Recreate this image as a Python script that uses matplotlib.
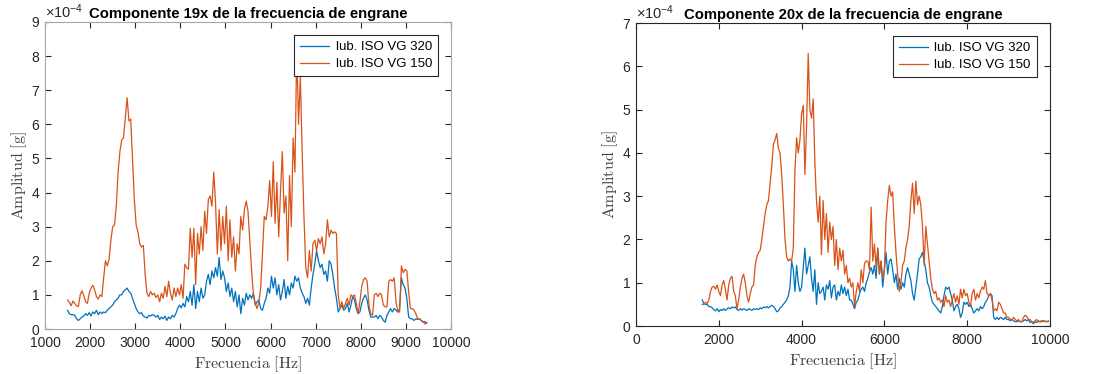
import numpy as np
import matplotlib
matplotlib.use("Agg")
import matplotlib.pyplot as plt

plt.rcParams['font.family'] = ['Liberation Sans', 'DejaVu Sans']
plt.rcParams['mathtext.fontset'] = 'custom'
plt.rcParams['mathtext.rm'] = 'Liberation Sans'
plt.rcParams['mathtext.it'] = 'Liberation Sans:italic'
plt.rcParams['mathtext.bf'] = 'Liberation Sans:bold'

# ---- data (amplitudes in units of 1e-4 g), frequency bins every 40 Hz ----
f19_start, f19_step = 1500, 40
vg320_19x = [
    0.55, 0.45, 0.42, 0.42, 0.40, 0.30, 0.25, 0.30, 0.35, 0.38,
    0.45, 0.40, 0.48, 0.38, 0.50, 0.45, 0.55, 0.42, 0.50, 0.45,
    0.50, 0.48, 0.55, 0.60, 0.65, 0.70, 0.80, 0.85, 0.90, 1.00,
    1.00, 1.10, 1.15, 1.20, 1.10, 1.05, 0.90, 0.75, 0.60, 0.50,
    0.45, 0.48, 0.38, 0.35, 0.32, 0.40, 0.38, 0.42, 0.40, 0.35,
    0.40, 0.28, 0.35, 0.30, 0.38, 0.25, 0.35, 0.30, 0.40, 0.35,
    0.45, 0.60, 0.70, 0.62, 0.75, 0.65, 0.95, 0.80, 1.10, 0.70,
    1.30, 0.60, 1.10, 0.80, 1.20, 0.90, 1.00, 1.40, 1.60, 1.30,
    1.70, 1.50, 1.80, 1.55, 2.10, 1.45, 1.70, 1.50, 1.10, 1.35,
    0.95, 1.20, 0.80, 1.10, 0.65, 1.00, 0.45, 0.90, 0.70, 1.05,
    0.85, 1.00, 0.90, 1.05, 0.70, 0.80, 0.85, 0.60, 0.55, 0.75,
    0.90, 1.20, 1.05, 1.55, 1.20, 1.50, 1.00, 1.30, 0.85, 1.10,
    1.45, 0.90, 1.25, 1.00, 1.35, 1.20, 1.55, 1.40, 1.50, 1.20,
    1.05, 0.95, 0.75, 0.90, 0.70, 1.20, 1.60, 1.90, 2.30, 2.00,
    1.80, 1.90, 1.60, 1.70, 1.40, 2.00, 1.90, 1.60, 1.20, 0.90,
    0.50, 0.60, 0.70, 0.55, 0.60, 0.75, 0.50, 0.70, 0.95, 0.85,
    0.60, 0.45, 0.50, 0.75, 0.90, 1.00, 0.85, 0.55, 0.35, 0.35,
    0.35, 0.40, 0.30, 0.40, 0.35, 0.25, 0.20, 0.40, 0.50, 0.60,
    0.50, 0.60, 0.55, 0.50, 0.60, 1.50, 1.30, 1.20, 0.90, 0.35,
    0.30, 0.30, 0.25, 0.30, 0.28, 0.30, 0.25, 0.20, 0.22, 0.18,
]
vg150_19x = [
    0.85, 0.78, 0.68, 0.82, 0.75, 0.68, 0.66, 1.00, 1.12, 0.98,
    0.80, 0.75, 1.05, 1.20, 1.28, 1.15, 0.95, 0.88, 1.00, 0.95,
    1.50, 2.00, 1.85, 2.05, 2.60, 3.00, 3.05, 3.60, 4.60, 5.20,
    5.55, 5.60, 6.20, 6.78, 6.10, 6.15, 5.00, 3.80, 3.05, 2.85,
    2.50, 2.40, 2.45, 1.60, 1.05, 0.95, 1.10, 1.00, 1.05, 0.92,
    1.00, 0.80, 1.05, 0.90, 1.25, 0.95, 1.40, 1.05, 0.85, 1.20,
    0.95, 1.20, 1.00, 1.30, 0.90, 1.90, 1.80, 1.75, 2.95, 2.10,
    2.95, 1.30, 2.80, 2.20, 3.00, 2.30, 3.45, 2.80, 3.80, 3.90,
    3.60, 4.60, 3.70, 2.20, 3.50, 2.30, 3.30, 2.50, 3.60, 2.00,
    3.20, 2.10, 2.70, 1.70, 2.50, 2.20, 3.30, 2.90, 3.50, 3.75,
    3.45, 2.60, 1.70, 1.00, 0.75, 0.60, 0.80, 1.20, 2.20, 3.30,
    3.20, 3.60, 4.35, 3.30, 4.90, 3.10, 4.30, 2.70, 4.00, 5.20,
    3.40, 3.90, 2.00, 4.50, 3.00, 5.60, 4.60, 8.25, 6.00, 7.40,
    5.20, 3.30, 1.80, 1.50, 2.30, 1.70, 2.50, 2.60, 2.30, 2.65,
    2.50, 2.70, 2.20, 2.50, 3.20, 2.70, 2.90, 2.80, 2.85, 2.80,
    1.00, 0.60, 0.80, 0.60, 0.75, 0.90, 0.70, 1.00, 0.95, 1.00,
    0.75, 0.45, 0.80, 1.25, 1.45, 1.50, 1.40, 0.70, 0.45, 0.40,
    1.00, 1.05, 0.95, 1.05, 1.00, 0.70, 0.65, 0.65, 1.40, 1.45,
    1.40, 1.50, 0.80, 0.50, 0.50, 1.85, 1.65, 1.75, 1.70, 1.10,
    0.60, 0.60, 0.55, 0.45, 0.30, 0.30, 0.25, 0.22, 0.15, 0.17,
]

f20_start, f20_step = 1600, 40
vg320_20x = [
    0.60, 0.52, 0.50, 0.50, 0.45, 0.45, 0.42, 0.38, 0.35, 0.40,
    0.33, 0.38, 0.36, 0.40, 0.36, 0.40, 0.42, 0.40, 0.44, 0.42,
    0.44, 0.38, 0.36, 0.40, 0.37, 0.40, 0.38, 0.36, 0.40, 0.38,
    0.36, 0.40, 0.38, 0.40, 0.38, 0.42, 0.40, 0.44, 0.42, 0.45,
    0.42, 0.45, 0.48, 0.45, 0.40, 0.33, 0.35, 0.42, 0.45, 0.50,
    0.55, 0.60, 0.70, 0.90, 1.50, 1.30, 0.80, 1.40, 1.00, 0.80,
    0.90, 1.35, 1.80, 1.20, 1.40, 1.60, 1.10, 0.80, 1.30, 0.50,
    1.00, 0.75, 0.80, 0.90, 0.60, 0.95, 0.85, 1.05, 0.65, 0.90,
    0.95, 0.60, 0.80, 0.70, 0.95, 0.75, 0.90, 0.70, 0.85, 0.60,
    0.60, 0.50, 0.40, 0.55, 0.60, 0.75, 0.85, 0.90, 0.80, 1.00,
    1.10, 1.25, 1.35, 1.20, 1.40, 1.10, 1.80, 1.20, 1.50, 0.90,
    1.30, 1.70, 1.20, 1.50, 1.55, 1.30, 1.00, 1.20, 0.85, 1.10,
    0.85, 1.00, 0.90, 1.20, 1.35, 1.20, 1.05, 0.75, 0.60, 0.90,
    1.20, 1.55, 1.60, 1.70, 1.50, 1.30, 1.00, 0.90, 0.70, 0.55,
    0.50, 0.45, 0.40, 0.35, 0.30, 0.45, 0.70, 0.90, 0.85, 0.90,
    0.75, 0.60, 0.35, 0.45, 0.50, 0.40, 0.20, 0.30, 0.55, 0.50,
    0.55, 0.45, 0.50, 0.40, 0.30, 0.35, 0.40, 0.35, 0.45, 0.40,
    0.45, 0.55, 0.60, 0.70, 0.75, 0.70, 0.20, 0.15, 0.20, 0.15,
    0.20, 0.18, 0.15, 0.20, 0.15, 0.15, 0.12, 0.15, 0.12, 0.10,
    0.10, 0.12, 0.10, 0.10, 0.12, 0.15, 0.12, 0.15, 0.08, 0.10,
    0.05, 0.10, 0.08, 0.12, 0.10, 0.10, 0.12, 0.10, 0.10, 0.12,
]
vg150_20x = [
    0.50, 0.50, 0.55, 0.52, 0.60, 0.80, 0.90, 0.92, 0.85, 0.95,
    0.80, 0.70, 0.95, 1.05, 0.85, 0.60, 0.95, 1.10, 1.15, 0.80,
    0.70, 0.40, 0.60, 0.90, 1.10, 1.20, 1.00, 0.70, 0.55, 0.75,
    0.90, 0.95, 1.40, 1.60, 1.70, 1.75, 2.00, 2.30, 2.60, 2.80,
    2.90, 3.30, 3.70, 4.20, 4.30, 4.45, 4.10, 4.00, 3.50, 2.80,
    2.00, 1.60, 1.50, 1.55, 1.50, 1.80, 3.60, 4.35, 4.00, 4.30,
    4.90, 5.10, 3.50, 4.60, 6.30, 5.00, 4.80, 5.25, 3.80, 2.90,
    2.40, 3.00, 1.65, 2.90, 2.00, 2.60, 1.70, 2.40, 2.00, 2.30,
    1.40, 2.00, 1.30, 1.80, 1.50, 1.75, 1.20, 1.40, 1.00, 1.10,
    0.90, 1.00, 0.45, 0.80, 1.00, 0.80, 1.30, 1.00, 1.45, 1.50,
    1.50, 1.30, 2.75, 1.50, 1.90, 1.35, 1.80, 1.20, 1.50, 1.10,
    1.30, 2.40, 2.90, 3.25, 3.00, 3.10, 2.30, 1.70, 1.20, 0.80,
    1.00, 1.40, 1.50, 1.80, 2.00, 2.30, 2.90, 3.30, 2.60, 3.35,
    2.80, 3.00, 2.80, 2.30, 1.40, 2.30, 1.90, 1.50, 1.10, 0.85,
    0.75, 0.80, 0.60, 0.65, 0.55, 0.60, 0.45, 0.70, 0.55, 0.60,
    0.45, 0.60, 0.75, 0.55, 0.70, 0.50, 0.85, 0.65, 0.85, 0.70,
    0.75, 0.55, 0.45, 0.75, 0.85, 0.60, 0.75, 0.65, 0.80, 0.90,
    0.85, 1.05, 0.75, 0.70, 0.75, 0.60, 0.35, 0.40, 0.35, 0.55,
    0.50, 0.40, 0.30, 0.30, 0.20, 0.20, 0.15, 0.15, 0.20, 0.15,
    0.12, 0.15, 0.10, 0.10, 0.20, 0.25, 0.22, 0.15, 0.15, 0.10,
    0.08, 0.12, 0.15, 0.10, 0.10, 0.13, 0.10, 0.12, 0.10, 0.10,
]

labels = ['lub. ISO VG 320', 'lub. ISO VG 150']
titles = ['Componente 19x de la frecuencia de engrane',
          'Componente 20x de la frecuencia de engrane']

blue = '#0072BD'
orange = '#D95319'
dark = '#262626'

fig = plt.figure(figsize=(10.95, 3.74), dpi=100)
ax1 = fig.add_axes([0.0411, 0.1203, 0.3708, 0.8209])
ax2 = fig.add_axes([0.5808, 0.1283, 0.3781, 0.8100])

f19 = f19_start + f19_step * np.arange(len(vg320_19x))
f20 = f20_start + f20_step * np.arange(len(vg320_20x))

panels = [
    (ax1, f19, vg320_19x, vg150_19x, titles[0], (1000, 10000), np.arange(1000, 10001, 1000), 9, '#a6a6a6'),
    (ax2, f20, vg320_20x, vg150_20x, titles[1], (0, 10000), np.arange(0, 10001, 2000), 7, dark),
]

for ax, f, a320, a150, title, xlim, xt, ymax, spine_col in panels:
    ax.plot(f, a320, color=blue, lw=0.9, label=labels[0])
    ax.plot(f, a150, color=orange, lw=0.9, label=labels[1])
    ax.set_xlim(*xlim)
    ax.set_ylim(0, ymax)
    ax.set_xticks(xt)
    ax.set_yticks(range(0, ymax + 1))
    ax.tick_params(direction='in', top=True, right=True, length=4,
                   labelsize=10, colors=dark, width=0.8)
    ax.tick_params(axis='x', pad=5)
    ax.tick_params(axis='y', pad=4)
    for s in ax.spines.values():
        s.set_color(spine_col)
        s.set_linewidth(0.8)
    ax.set_title(title, fontsize=10.7, fontweight='bold', pad=3)
    ax.text(0.0, 1.003, r'$\times10^{-4}$', transform=ax.transAxes,
            ha='left', va='bottom', fontsize=10.5, color=dark)
    ax.set_xlabel(r'$\mathrm{Frecuencia\ [Hz]}$', math_fontfamily='cm',
                  fontsize=11.5, color='#404040', labelpad=3)
    ax.set_ylabel(r'$\mathrm{Amplitud\ [g]}$', math_fontfamily='cm',
                  fontsize=11.5, color='#404040', labelpad=2)
    leg = ax.legend(loc='upper right', fontsize=9.5, fancybox=False,
                    framealpha=1, edgecolor=dark, handlelength=2.2,
                    borderaxespad=1.0, borderpad=0.45, labelspacing=0.35,
                    handletextpad=0.5)
    leg.get_frame().set_linewidth(0.8)

fig.savefig('out.png', dpi=100)
